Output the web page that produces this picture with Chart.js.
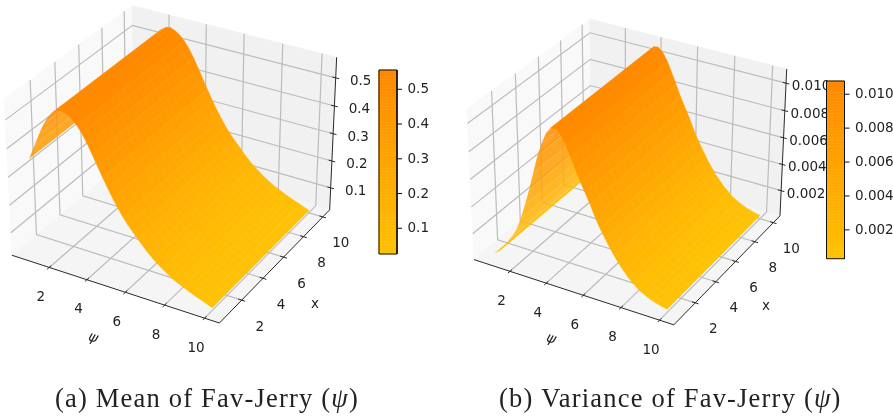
<!DOCTYPE html>
<html>
<head>
<meta charset="utf-8">
<style>
  html, body { margin: 0; padding: 0; background: #fff; }
  canvas { display: block; }
</style>
<script src="https://cdn.jsdelivr.net/npm/chart.js@4/dist/chart.umd.min.js"></script>
</head>
<body>
<canvas id="chart" width="893" height="416"></canvas>
<script>
const PSI_VALUES = [0.67, 1, 1.25, 1.5, 1.75, 2, 2.25, 2.5, 2.75, 3, 3.25, 3.5, 3.75, 4, 4.25, 4.5, 4.75, 5, 5.25, 5.5, 5.75, 6, 6.25, 6.5, 6.75, 7, 7.25, 7.5, 7.75, 8, 8.25, 8.5, 8.75, 9, 9.25, 9.5, 9.75, 10];
const MEAN_VALUES = [0.355, 0.41, 0.452, 0.49, 0.52, 0.542, 0.553, 0.5555, 0.549, 0.537, 0.52, 0.497, 0.468, 0.435, 0.401, 0.367, 0.335, 0.304, 0.276, 0.25, 0.227, 0.207, 0.188, 0.169, 0.151, 0.135, 0.121, 0.108, 0.096, 0.085, 0.076, 0.068, 0.06, 0.053, 0.046, 0.04, 0.033, 0.026];
const VAR_VALUES = [0.0003, 0.00065, 0.0011, 0.0016, 0.0021, 0.0027, 0.0036, 0.0047, 0.0059, 0.0072, 0.0085, 0.0095, 0.0103, 0.01075, 0.0108, 0.0105, 0.00995, 0.0092, 0.0084, 0.0076, 0.0069, 0.0062, 0.0054, 0.0047, 0.0041, 0.0035, 0.003, 0.0025, 0.0021, 0.0017, 0.0014, 0.0011, 0.0009, 0.00072, 0.00058, 0.00047, 0.00038, 0.0003];
const X_RANGE = [0.67, 10];
const SEAM_X = [1, 1.5, 2, 2.5, 3, 3.5, 4, 4.5, 5, 5.5, 6, 6.5, 7, 7.5, 8, 8.5, 9, 9.5];
const AXIS_TICKS = [2, 4, 6, 8, 10];
const MEAN_TICKS = [0.1, 0.2, 0.3, 0.4, 0.5];
const VAR_TICKS = [0.002, 0.004, 0.006, 0.008, 0.01];

const AXIS_LIM = [-0.02, 10.73];
const BOX = [1.1905, 1.1905, 0.8929];
const TEXT = "#222222";
const GRID_COLOR = "#bcbcbc";
const LABEL_FONT = '13.5px "DejaVu Sans"';
const CAPTION_SIZE = 26.5;

const panels = [
  {
    values: MEAN_VALUES, zTicks: MEAN_TICKS, digits: 1,
    zLim: [0.017, 0.572], range: [0.026, 0.5555],
    cx: 173.7, cy: 156.6, scale: 1997,
    bar: { left: 379, right: 397, top: 70, bottom: 254 },
    xTitle: [315, 304], psiTitle: [93, 338],
    caption: ["(a) Mean of Fav-Jerry (", "ψ", ")"], captionX: 55,
  },
  {
    values: VAR_VALUES, zTicks: VAR_TICKS, digits: 3,
    zLim: [0.00005, 0.01102], range: [0.0003, 0.01078],
    cx: 629.8, cy: 164.6, scale: 1923,
    bar: { left: 826.5, right: 844.5, top: 81, bottom: 258.7 },
    xTitle: [766, 306], psiTitle: [551, 339],
    caption: ["(b) Variance of Fav-Jerry (", "ψ", ")"], captionX: 499,
  },
];

// same camera as a default mplot3d view (elev 30, azim -60, dist 10)
function project(p, psi, x, z) {
  const X = ((psi - AXIS_LIM[0]) / (AXIS_LIM[1] - AXIS_LIM[0]) - 0.5) * BOX[0];
  const Y = ((x - AXIS_LIM[0]) / (AXIS_LIM[1] - AXIS_LIM[0]) - 0.5) * BOX[1];
  const Z = ((z - p.zLim[0]) / (p.zLim[1] - p.zLim[0]) - 0.5) * BOX[2];
  const u = 0.866025 * X + 0.5 * Y;
  const v = -0.25 * X + 0.433013 * Y + 0.866025 * Z;
  const d = 10 - (0.433013 * X - 0.75 * Y + 0.5 * Z);
  return { x: p.cx + (p.scale * u) / d, y: p.cy - (p.scale * v) / d };
}

function rampColor(p, v) {
  const t = Math.min(1, Math.max(0, (v - p.range[0]) / (p.range[1] - p.range[0])));
  return `rgb(255,${Math.round(194 - 57 * t)},${Math.round(4 * (1 - t))})`;
}

const datasets = [];

function addLine(points, color, width) {
  datasets.push({ data: points, borderColor: color, borderWidth: width, pointRadius: 0, fill: false, tension: 0 });
}

function addShape(points, color, edge) {
  datasets.push({
    data: points.concat([points[0]]),
    backgroundColor: color,
    borderColor: edge || color,
    borderWidth: edge === "transparent" ? 0 : 0.6,
    pointRadius: 0,
    fill: "shape",
    tension: 0,
  });
}

function buildPanel(p) {
  const [lo, hi] = AXIS_LIM;
  const [z0, z1] = p.zLim;
  const pt = (psi, x, z) => project(p, psi, x, z);

  addShape([pt(lo, lo, z1), pt(lo, hi, z1), pt(lo, hi, z0), pt(lo, lo, z0)], "#f9f9f9");
  addShape([pt(lo, hi, z1), pt(hi, hi, z1), pt(hi, hi, z0), pt(lo, hi, z0)], "#f1f1f1");
  addShape([pt(lo, lo, z0), pt(hi, lo, z0), pt(hi, hi, z0), pt(lo, hi, z0)], "#f5f5f5");

  const tickLen = (hi - lo) * 0.016;
  AXIS_TICKS.forEach((t) => {
    addLine([pt(t, lo, z0), pt(t, hi, z0), pt(t, hi, z1)], GRID_COLOR, 1.2);
    addLine([pt(hi, t, z0), pt(lo, t, z0), pt(lo, t, z1)], GRID_COLOR, 1.2);
  });
  p.zTicks.forEach((t) => {
    addLine([pt(lo, lo, t), pt(lo, hi, t), pt(hi, hi, t)], GRID_COLOR, 1.2);
  });

  addLine([pt(lo, lo, z0), pt(hi, lo, z0), pt(hi, hi, z0), pt(hi, hi, z1)], "#2a2a2a", 1);
  AXIS_TICKS.forEach((t) => {
    addLine([pt(t, lo - tickLen, z0), pt(t, lo + tickLen, z0)], "#2a2a2a", 1);
    addLine([pt(hi + tickLen, t, z0), pt(hi - tickLen, t, z0)], "#2a2a2a", 1);
  });
  p.zTicks.forEach((t) => {
    addLine([pt(hi + tickLen, hi, t), pt(hi - tickLen, hi, t)], "#2a2a2a", 1);
  });

  // strips from low psi to high psi, the camera sits on the high psi side
  const peak = p.values.indexOf(Math.max(...p.values));
  for (let i = 0; i < PSI_VALUES.length - 1; i++) {
    const a = PSI_VALUES[i];
    const b = PSI_VALUES[i + 1];
    const za = p.values[i];
    const zb = p.values[i + 1];
    const col = rampColor(p, (za + zb) / 2);
    const back = i < peak - 1;
    addShape(
      [pt(a, X_RANGE[0], za), pt(a, X_RANGE[1], za), pt(b, X_RANGE[1], zb), pt(b, X_RANGE[0], zb)],
      back ? col.replace("rgb", "rgba").replace(")", ",0.86)") : col,
      back ? "transparent" : col
    );
    // faint polygon seams of the original mesh, none on the flat top of the ridge
    if (i > peak + 2) {
      const net = [pt(a, X_RANGE[1], za)];
      SEAM_X.slice().reverse().forEach((x, k) => {
        if (k % 2 === 0) net.push(pt(a, x, za), pt(b, x, zb));
        else net.push(pt(b, x, zb), pt(a, x, za));
      });
      addLine(net, "rgba(255,255,255,0.07)", 0.6);
    }
  }

  const bar = p.bar;
  const barY = (v) => bar.bottom - ((v - p.range[0]) / (p.range[1] - p.range[0])) * (bar.bottom - bar.top);
  const steps = 60;
  for (let i = 0; i < steps; i++) {
    const v0 = p.range[0] + ((p.range[1] - p.range[0]) * i) / steps;
    const v1 = p.range[0] + ((p.range[1] - p.range[0]) * (i + 1)) / steps;
    addShape(
      [{ x: bar.left, y: barY(v0) }, { x: bar.right, y: barY(v0) }, { x: bar.right, y: barY(v1) }, { x: bar.left, y: barY(v1) }],
      rampColor(p, (v0 + v1) / 2)
    );
  }
  addLine(
    [{ x: bar.left, y: bar.top }, { x: bar.right, y: bar.top }, { x: bar.right, y: bar.bottom }, { x: bar.left, y: bar.bottom }, { x: bar.left, y: bar.top }],
    "#111", 1
  );
  p.zTicks.forEach((t) => {
    addLine([{ x: bar.right, y: barY(t) }, { x: bar.right + 5, y: barY(t) }], "#111", 1);
  });
}

panels.forEach(buildPanel);
datasets.forEach((d, i) => { d.order = datasets.length - i; });

function drawText(ctx, text, x, y, font, align, angle, spacing) {
  ctx.save();
  ctx.translate(x, y);
  if (angle) ctx.rotate(angle);
  ctx.font = font;
  ctx.letterSpacing = spacing || "0px";
  ctx.textAlign = align || "center";
  ctx.textBaseline = "middle";
  ctx.fillStyle = TEXT;
  ctx.fillText(text, 0, 0);
  ctx.restore();
}

const textPlugin = {
  id: "panelText",
  // drawn under the datasets, the colour bar covers the long z labels as in the original
  beforeDatasetsDraw(chart) {
    const ctx = chart.ctx;
    const sx = chart.scales.x;
    const sy = chart.scales.y;
    panels.forEach((p) => {
      const [lo, hi] = AXIS_LIM;
      const pos = (psi, x, z) => {
        const q = project(p, psi, x, z);
        return { x: sx.getPixelForValue(q.x), y: sy.getPixelForValue(q.y) };
      };
      AXIS_TICKS.forEach((t) => {
        let q = pos(t, lo, p.zLim[0]);
        drawText(ctx, String(t), q.x - 8.5, q.y + 30, LABEL_FONT);
        q = pos(hi, t, p.zLim[0]);
        drawText(ctx, String(t), q.x + 18, q.y + 27, LABEL_FONT);
      });
      p.zTicks.forEach((t) => {
        const q = pos(hi, hi, t);
        drawText(ctx, t.toFixed(p.digits), q.x + 25, q.y + 3.5, LABEL_FONT);
      });
      drawText(ctx, "ψ", p.psiTitle[0], p.psiTitle[1], 'italic 14px "DejaVu Sans"', "center", 0.32);
      drawText(ctx, "x", p.xTitle[0], p.xTitle[1], LABEL_FONT);

      const bar = p.bar;
      p.zTicks.forEach((t) => {
        const y = bar.bottom - ((t - p.range[0]) / (p.range[1] - p.range[0])) * (bar.bottom - bar.top);
        drawText(ctx, t.toFixed(p.digits), sx.getPixelForValue(bar.right + 10.5), sy.getPixelForValue(y) + 0.5, LABEL_FONT, "left");
      });

      const capFont = `${CAPTION_SIZE}px "Liberation Serif"`;
      const capItalic = `italic ${CAPTION_SIZE}px "Liberation Serif"`;
      const gap = "1.2px";
      let cx = p.captionX;
      const [head, sym, tail] = p.caption;
      ctx.save();
      ctx.letterSpacing = gap;
      ctx.font = capFont;
      const headW = ctx.measureText(head).width;
      ctx.font = capItalic;
      const symW = ctx.measureText(sym).width;
      ctx.restore();
      drawText(ctx, head, cx, 400, capFont, "left", 0, gap);
      cx += headW;
      drawText(ctx, sym, cx, 400, capItalic, "left", 0, gap);
      cx += symW;
      drawText(ctx, tail, cx, 400, capFont, "left", 0, gap);
    });
  },
};

new Chart(document.getElementById("chart"), {
  type: "line",
  data: { datasets },
  options: {
    responsive: false,
    animation: false,
    devicePixelRatio: 1,
    layout: { padding: 0 },
    plugins: { legend: { display: false }, tooltip: { enabled: false } },
    scales: {
      x: { type: "linear", min: 0, max: 893, display: false },
      y: { type: "linear", min: 0, max: 416, reverse: true, display: false },
    },
  },
  plugins: [textPlugin],
});
</script>
</body>
</html>
